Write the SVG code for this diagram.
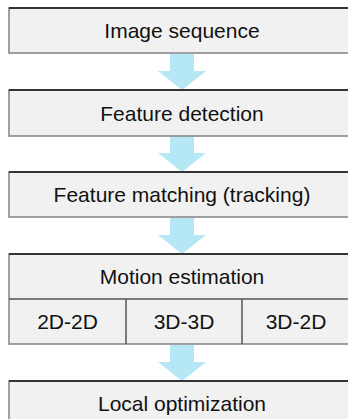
<svg xmlns="http://www.w3.org/2000/svg" width="348" height="419" viewBox="0 0 348 419">
<style>
.box{fill:#f1f1f1;stroke:#8a8a8a;stroke-width:1.6}
.top{stroke:#111;stroke-width:1.6}
.div{stroke:#555;stroke-width:1.5}
.lbl{font-family:"Liberation Sans",Arial,sans-serif;font-size:21px;fill:#111;text-anchor:middle}
.arr{fill:#b5e8f4}
</style>
<defs>
<path id="arrow" class="arr" d="M170,0 H194 V17 H206 L182,36 L158,17 H170 Z"/>
</defs>
<rect width="348" height="419" fill="#fff"/>
<g id="connectors">
<use href="#arrow" y="54"/>
<use href="#arrow" y="136"/>
<use href="#arrow" y="218"/>
<use href="#arrow" y="345"/>
</g>
<g id="n1">
<rect class="box" x="9" y="8" width="348" height="45"/>
<line class="top" x1="9" y1="8" x2="348" y2="8"/>
<text class="lbl" x="182" y="38">Image sequence</text>
</g>
<g id="n2">
<rect class="box" x="9" y="90" width="348" height="46"/>
<line class="top" x1="9" y1="90" x2="348" y2="90"/>
<text class="lbl" x="182" y="120.5">Feature detection</text>
</g>
<g id="n3">
<rect class="box" x="9" y="172" width="348" height="45"/>
<line class="top" x1="9" y1="172" x2="348" y2="172"/>
<text class="lbl" x="182" y="202">Feature matching (tracking)</text>
</g>
<g id="n4">
<rect class="box" x="9" y="254" width="348" height="90"/>
<line class="top" x1="9" y1="254" x2="348" y2="254"/>
<line class="div" x1="9" y1="299" x2="348" y2="299"/>
<line class="div" x1="126" y1="299" x2="126" y2="344"/>
<line class="div" x1="242" y1="299" x2="242" y2="344"/>
<text class="lbl" x="182" y="284">Motion estimation</text>
<text class="lbl" x="67.5" y="329">2D-2D</text>
<text class="lbl" x="184" y="329">3D-3D</text>
<text class="lbl" x="296" y="329">3D-2D</text>
</g>
<g id="n5">
<rect class="box" x="9" y="381" width="348" height="45"/>
<line class="top" x1="9" y1="381" x2="348" y2="381"/>
<text class="lbl" x="182" y="411">Local optimization</text>
</g>
</svg>
